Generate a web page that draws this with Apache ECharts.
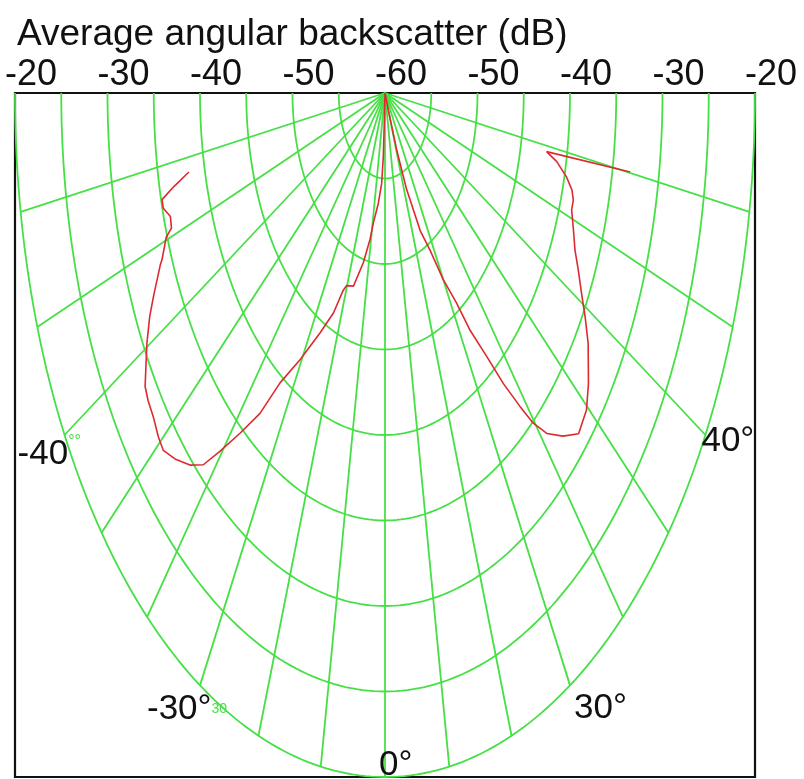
<!DOCTYPE html>
<html>
<head>
<meta charset="utf-8">
<script src="https://cdn.jsdelivr.net/npm/echarts@6/dist/echarts.min.js"></script>
<style>
  html, body { margin: 0; padding: 0; background: #fff; }
  #chart { width: 804px; height: 779px; }
</style>
</head>
<body>
<div id="chart"></div>
<script>
// Beam angle (deg, 0 = nadir, negative = port) and mean backscatter (dB)
const angleDeg = [
  -77.7, -76.5, -75.5, -74.3, -72.7, -71.1, -70.4, -68.0, -67.5, -64.6,
  -62.8, -60.4, -58.5, -56.5, -54.9, -52.9, -50.6, -48.9, -46.7, -44.1,
  -42.1, -40.4, -38.2, -35.8, -33.8, -30.5, -26.6, -23.4, -21.4, -20.2,
  -16.8, -13.3, -10.7, -9.4, -6.4, -3.9, -2.8, -2.5, 0.0,
  19.7, 20.8, 22.5, 25.3, 27.9, 30.0, 32.2, 33.5, 35.5, 37.0,
  38.5, 39.7, 41.3, 43.8, 46.4, 49.6, 52.3, 56.3, 58.8, 60.8,
  63.7, 65.9, 68.5, 71.3, 72.9, 74.3, 76.0, 77.8, 78.9, 80.1
];
const backscatterDb = [
  -38.3, -36.5, -35.1, -35.1, -35.7, -35.6, -34.9, -34.0, -33.7, -32.3,
  -31.4, -30.4, -29.7, -28.9, -28.7, -28.6, -28.3, -28.2, -28.8, -29.7,
  -30.7, -32.5, -34.7, -36.9, -39.6, -41.9, -44.3, -46.0, -47.6, -48.0,
  -48.2, -49.8, -51.3, -52.3, -53.5, -54.7, -56.3, -58.2, -60.0,
  -58.9, -56.4, -53.9, -51.1, -49.6, -47.4, -45.5, -43.4, -41.1, -38.7,
  -36.6, -34.9, -33.5, -32.2, -31.1, -31.4, -32.2, -33.6, -34.7, -35.6,
  -36.7, -37.5, -38.1, -38.7, -38.7, -39.0, -39.8, -41.0, -42.2, -33.1
];

// Radial scale: centre and outer ring values (dB), rings every 5 dB
const dbCentre = -60;
const dbOuter = -20;
const ringDb = [-55, -50, -45, -40, -35, -30, -25, -20];
// Angular spokes every 10 degrees (the +/-90 ones lie on the frame)
const spokeDeg = [-80, -70, -60, -50, -40, -30, -20, -10, 0,
                  10, 20, 30, 40, 50, 60, 70, 80];
// Labels along the top edge, one per 10 dB
const topTickLabels = ['-20', '-30', '-40', '-50', '-60', '-50', '-40', '-30', '-20'];
// Angle captions and the spokes they sit beside
const angleCaptions = ['{n|-40}{g|°°}', '{n|-30°}{s|30}', '{n|0°}', '{n|30°}', '{n|40°}'];
const captionSpoke = [-60, -30, 0, 30, 60];

const FONT = 'Liberation Sans, Arial, sans-serif';
const GREEN = '#46e046';
const INK = '#111';

// polar (angle, dB) -> plane; the grid's aspect stretches it vertically
function toXY(theta, db) {
  const rho = (db - dbCentre) / (dbOuter - dbCentre);
  const t = theta * Math.PI / 180;
  return [rho * Math.sin(t), -rho * Math.cos(t)];
}

const gridSeries = [];
ringDb.forEach(function (db) {
  const pts = [];
  for (let a = -90; a <= 90; a += 1) pts.push(toXY(a, db));
  gridSeries.push({
    type: 'line', data: pts, symbol: 'none', silent: true, z: 1,
    lineStyle: { color: GREEN, width: 1.8 }
  });
});
spokeDeg.forEach(function (a) {
  gridSeries.push({
    type: 'line', data: [toXY(a, dbCentre), toXY(a, dbOuter)],
    symbol: 'none', silent: true, z: 1,
    lineStyle: { color: GREEN, width: 1.8 }
  });
});

const curve = angleDeg.map(function (a, i) { return toXY(a, backscatterDb[i]); });

// pixel offsets of each caption from its spoke end
const captionOffset = [[-47, 19], [-53, 24], [-6, -12], [4, 23], [-4, 6]];
const captionData = captionSpoke.map(function (a, i) {
  return {
    value: toXY(a, dbOuter),
    label: { formatter: angleCaptions[i], offset: captionOffset[i] }
  };
});

const chart = echarts.init(document.getElementById('chart'), null, { renderer: 'canvas' });
chart.setOption({
  animation: false,
  backgroundColor: '#fff',
  title: {
    text: 'Average angular backscatter (dB)',
    left: 12, top: 11,
    textStyle: { fontFamily: FONT, fontSize: 37, fontWeight: 'normal', color: INK }
  },
  grid: {
    left: 15, right: 49, top: 93, bottom: 2,
    show: true, borderColor: INK, borderWidth: 2.2, backgroundColor: 'transparent'
  },
  xAxis: {
    type: 'value', position: 'top', min: -1, max: 1, interval: 0.25,
    axisLine: { show: false }, axisTick: { show: false }, splitLine: { show: false },
    axisLabel: {
      show: true, showMinLabel: true, showMaxLabel: true,
      margin: 0, fontFamily: FONT, fontSize: 36, color: INK,
      padding: [0, 0, 0, 32],
      formatter: function (v, idx) { return topTickLabels[idx]; }
    }
  },
  yAxis: { type: 'value', min: -1, max: 0, show: false },
  series: gridSeries.concat([
    {
      type: 'line', data: curve, symbol: 'none', z: 3,
      lineStyle: { color: '#dd2a30', width: 1.6 }
    },
    {
      type: 'scatter', data: captionData, symbolSize: 0, z: 4, silent: true,
      itemStyle: { opacity: 1 },
      label: {
        show: true, position: 'inside', align: 'left', verticalAlign: 'middle',
        color: INK, opacity: 1, textBorderWidth: 0,
        rich: {
          n: { fontFamily: FONT, fontSize: 35, color: INK, lineHeight: 40, textBorderWidth: 0 },
          g: { fontFamily: FONT, fontSize: 16, color: GREEN, lineHeight: 40, verticalAlign: 'top' },
          s: { fontFamily: FONT, fontSize: 14, color: GREEN, lineHeight: 40 }
        }
      }
    }
  ])
});
</script>
</body>
</html>
